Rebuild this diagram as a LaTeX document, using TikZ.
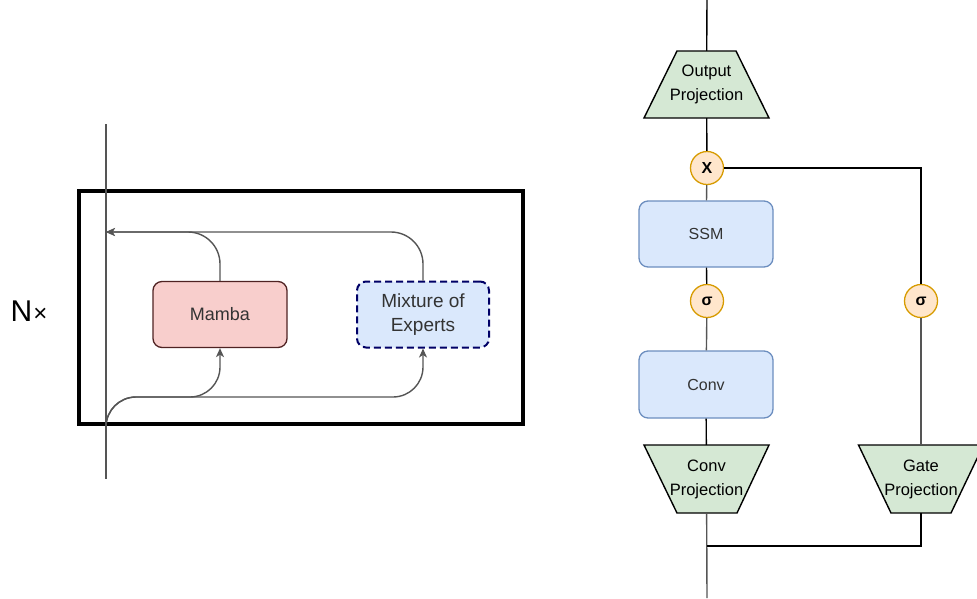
\documentclass[tikz,border=0pt]{standalone}
\usepackage{fontspec}
\setmainfont{Liberation Sans}
\usetikzlibrary{arrows.meta}
\definecolor{pinkfill}{HTML}{F8CECC}
\definecolor{pinkdraw}{HTML}{4F2222}
\definecolor{bluefill}{HTML}{DAE8FC}
\definecolor{bluedraw}{HTML}{6C8EBF}
\definecolor{navy}{HTML}{000066}
\definecolor{greenfill}{HTML}{D5E8D4}
\definecolor{orfill}{HTML}{FFE6CC}
\definecolor{ordraw}{HTML}{D79B00}
\definecolor{flowgray}{HTML}{555555}
\definecolor{txtgray}{HTML}{333333}
\tikzset{
  flow/.style={draw=flowgray, line width=1.4pt},
  arr/.style={flow, -{Stealth[length=9pt,width=8pt,inset=2.5pt]}},
  wire/.style={draw=black, line width=1.4pt},
  gwire/.style={draw=flowgray, line width=1.4pt},
  blockbox/.style={rectangle, rounded corners=9pt, minimum width=134pt, minimum height=66pt, inner sep=0pt, line width=1.3pt},
  projshape/.style={fill=greenfill, draw=black, line width=1.4pt, line join=miter},
  projtext/.style={rectangle, minimum width=125pt, minimum height=67pt, inner sep=0pt, align=center, font=\fontsize{16.5}{24}\selectfont},
  opcircle/.style={circle, minimum size=33pt, inner sep=0pt, fill=orfill, draw=ordraw, line width=1.3pt, font=\fontsize{16}{16}\selectfont\bfseries}
}
\begin{document}
\begin{tikzpicture}[x=1pt,y=-1pt]
\useasboundingbox (0,0) rectangle (977,598);
% ---------- left part ----------
\node[font=\fontsize{30}{30}\selectfont, inner sep=0pt] (nx) at (29,311) {N\kern1pt{\fontsize{24}{24}\selectfont ×}};
\node[rectangle, draw=black, line width=4pt, minimum width=444pt, minimum height=233pt, inner sep=0pt] (frame) at (301,307.5) {};
\coordinate (ltop) at (106,124);
\coordinate (lbot) at (106,479);
\draw[flow] (ltop) -- (lbot);
\node[blockbox, fill=pinkfill, draw=pinkdraw, text=txtgray, font=\fontsize{18}{22}\selectfont] (mamba) at (220,314.5) {Mamba};
\node[blockbox, minimum width=132pt, fill=bluefill, draw=navy, line width=2pt, dash pattern=on 7pt off 4pt, text=txtgray, align=center, font=\fontsize{19}{24}\selectfont] (moe) at (423,314.5) {Mixture of\\Experts};
\coordinate (ret) at (106,232);
\coordinate (bstart) at (106,426);
\coordinate (bline) at (0,397);
\draw[arr, rounded corners=32pt] (mamba.north) |- (ret);
\draw[arr, rounded corners=32pt] (moe.north) |- (ret);
\draw[arr, rounded corners=30pt] (bstart) |- (mamba.south |- bline) -- (mamba.south);
\draw[arr, rounded corners=30pt] (bstart) |- (moe.south |- bline) -- (moe.south);
% ---------- right part ----------
\coordinate (otop) at (707,0);
\coordinate (obot) at (707,598);
\draw[projshape] (677,51) -- (736,51) -- (769,118) -- (644,118) -- cycle;
\node[projtext] (outp) at (706.5,84.5) {Output\\Projection};
\node[opcircle] (xc) at (707,168) {X};
\node[blockbox, fill=bluefill, draw=bluedraw, text=txtgray, font=\fontsize{16}{20}\selectfont] (ssm) at (706,234) {SSM};
\node[opcircle] (s1) at (707,301) {σ};
\node[opcircle] (s2) at (921,301) {σ};
\node[blockbox, minimum height=67pt, fill=bluefill, draw=bluedraw, text=txtgray, font=\fontsize{16}{20}\selectfont] (conv) at (706,384.5) {Conv};
\draw[projshape] (644,445) -- (769,445) -- (737,513) -- (677,513) -- cycle;
\node[projtext, minimum height=68pt] (cproj) at (706.5,479) {Conv\\Projection};
\draw[projshape] (858.5,445) -- (983.5,445) -- (951,513) -- (891,513) -- cycle;
\node[projtext, minimum height=68pt] (gproj) at (921,479) {Gate\\Projection};
\coordinate (join) at (707,546);
\draw[wire] (otop) -- (outp);
\draw[wire] (outp) -- (xc);
\draw[gwire] (xc) -- (ssm);
\draw[wire] (xc.east) -| (s2.north);
\draw[wire] (ssm) -- (s1);
\draw[gwire] (s1) -- (conv);
\draw[wire] (conv) -- (cproj);
\draw[gwire] (cproj) -- (obot);
\draw[gwire] (s2) -- (gproj);
\draw[wire] (gproj) |- (join);
\end{tikzpicture}
\end{document}
